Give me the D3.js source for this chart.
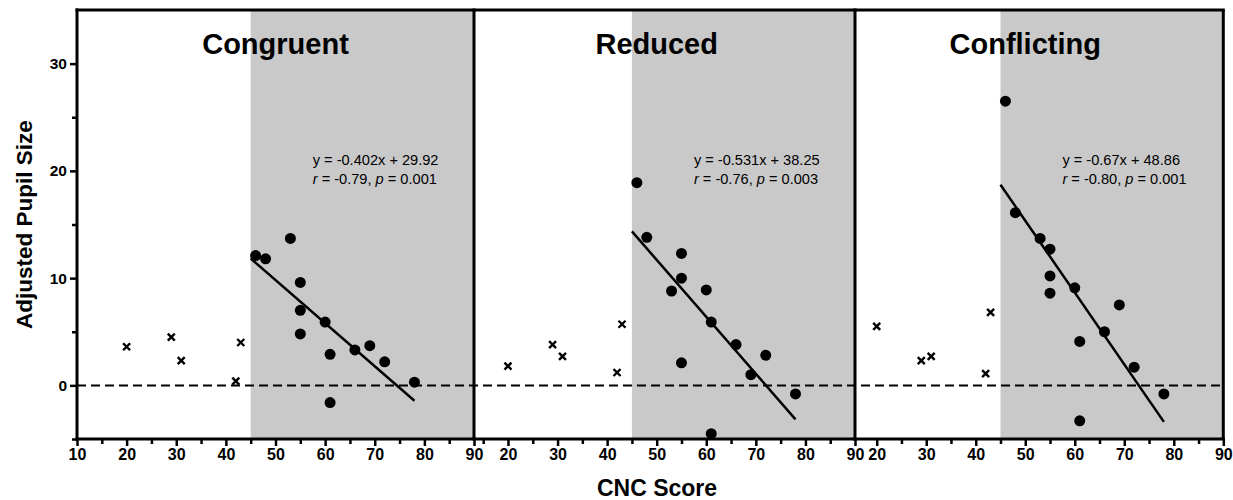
<!DOCTYPE html>
<html><head><meta charset="utf-8">
<script src="https://cdn.jsdelivr.net/npm/d3@7"></script>
<style>
html,body{margin:0;padding:0;background:#fff;}
svg{display:block;font-family:"Liberation Sans",Arial,Helvetica,sans-serif;}
</style></head>
<body><svg id="chart" width="1233" height="500"></svg>
<script>
// ---- data ----
const panels = ["Congruent", "Reduced", "Conflicting"];
const equations = ["y = -0.402x + 29.92", "y = -0.531x + 38.25", "y = -0.67x + 48.86"];
const rValues = ["-0.79", "-0.76", "-0.80"];
const pValues = ["0.001", "0.003", "0.001"];
const slopes = [-0.402, -0.531, -0.67];
const intercepts = [29.92, 38.25, 48.86];

// excluded participants (crosses): CNC score, pupil size
const crossX = [20, 29, 31, 42, 43];
const crossY = [
  [3.6, 4.5, 2.3, 0.4, 4.0],
  [1.8, 3.8, 2.7, 1.2, 5.7],
  [5.5, 2.3, 2.7, 1.1, 6.8]
];
// included participants (dots)
const dotX = [
  [46, 48, 53, 55, 55, 55, 60, 61, 61, 66, 69, 72, 78],
  [46, 48, 53, 55, 55, 55, 60, 61, 61, 66, 69, 72, 78],
  [46, 48, 53, 55, 55, 55, 60, 61, 61, 66, 69, 72, 78]
];
const dotY = [
  [12.1, 11.8, 13.7, 9.6, 7.0, 4.8, 5.9, 2.9, -1.6, 3.3, 3.7, 2.2, 0.3],
  [18.9, 13.8, 8.8, 12.3, 10.0, 2.1, 8.9, 5.9, -4.5, 3.8, 1.0, 2.8, -0.8],
  [26.5, 16.1, 13.7, 12.7, 10.2, 8.6, 9.1, 4.1, -3.3, 5.0, 7.5, 1.7, -0.8]
];
const xTicks = [10, 20, 30, 40, 50, 60, 70, 80, 90];
const xMinorTicks = [15, 25, 35, 45, 55, 65, 75, 85];
const yTicks = [0, 10, 20, 30];
const yMinorTicks = [-5, 5, 15, 25];
const xDomain = [10, 90];
const yDomain = [-5, 35];
const shadeStart = 45;
const fitRange = [45, 78];

// ---- layout ----
const svg = d3.select("#chart");
const topY = 10, bottomY = 439;
const panelRanges = [[77, 474], [458.4, 855], [827.2, 1223.3]];
const panelLeft = [77, 474, 854.5];
const grey = "#c9c9c9";
const y = d3.scaleLinear().domain(yDomain).range([bottomY, topY]);

panels.forEach((name, i) => {
  const x = d3.scaleLinear().domain(xDomain).range(panelRanges[i]);
  const left = panelLeft[i], right = panelRanges[i][1];
  const g = svg.append("g");
  // shading
  g.append("rect").attr("x", x(shadeStart)).attr("y", y(yDomain[1]))
    .attr("width", x(xDomain[1]) - x(shadeStart)).attr("height", y(yDomain[0]) - y(yDomain[1]))
    .attr("fill", grey);
  // title
  g.append("text").attr("x", x(50)).attr("y", 54).attr("text-anchor", "middle")
    .attr("font-size", 29).attr("font-weight", "bold").text(name);
  // annotation
  const ann = g.append("text").attr("x", x(57.5)).attr("y", 165).attr("font-size", 14.6);
  ann.append("tspan").text(equations[i]);
  const l2 = g.append("text").attr("x", x(57.5)).attr("y", 184).attr("font-size", 14.6);
  l2.append("tspan").attr("font-style", "italic").text("r");
  l2.append("tspan").text(" = " + rValues[i] + ", ");
  l2.append("tspan").attr("font-style", "italic").text("p");
  l2.append("tspan").text(" = " + pValues[i]);
  // frame
  g.append("line").attr("x1", right).attr("x2", right).attr("y1", topY).attr("y2", bottomY)
    .attr("stroke", "#000").attr("stroke-width", 3);
  g.append("line").attr("x1", left - 1.5).attr("x2", right + 1.5).attr("y1", topY).attr("y2", topY)
    .attr("stroke", "#000").attr("stroke-width", 3);
  // x axis
  const vis = t => x(t) >= left - 1;
  const ax = g.append("g").attr("transform", `translate(0,${bottomY})`)
    .call(d3.axisBottom(x).tickValues(xTicks.filter(vis)).tickSize(7).tickPadding(3).tickFormat(d3.format("d")));
  ax.select(".domain").remove();
  ax.selectAll(".tick line").attr("stroke-width", 2.5);
  ax.selectAll("text").attr("font-size", 16).attr("font-weight", "bold")
    .attr("font-family", '"Liberation Sans",Arial,sans-serif');
  const axm = g.append("g").attr("transform", `translate(0,${bottomY})`)
    .call(d3.axisBottom(x).tickValues(xMinorTicks.filter(vis)).tickSize(5).tickFormat(""));
  axm.select(".domain").remove();
  axm.selectAll(".tick line").attr("stroke-width", 2.5);
  g.append("line").attr("x1", left - 1.5).attr("x2", right + 1.5).attr("y1", bottomY).attr("y2", bottomY)
    .attr("stroke", "#000").attr("stroke-width", 3);
  // regression line
  g.append("line")
    .attr("x1", x(fitRange[0])).attr("y1", y(slopes[i] * fitRange[0] + intercepts[i]))
    .attr("x2", x(fitRange[1])).attr("y2", y(slopes[i] * fitRange[1] + intercepts[i]))
    .attr("stroke", "#000").attr("stroke-width", 2.5);
  // dots
  g.selectAll("circle.d").data(dotX[i].map((v, k) => [v, dotY[i][k]])).enter()
    .append("circle").attr("cx", d => x(d[0])).attr("cy", d => y(d[1])).attr("r", 5.5).attr("fill", "#000");
  // crosses
  const s = 3.5;
  g.selectAll("path.c").data(crossX.map((v, k) => [v, crossY[i][k]])).enter()
    .append("path")
    .attr("d", d => { const cx = x(d[0]), cy = y(d[1]);
      return `M${cx - s},${cy - s}L${cx + s},${cy + s}M${cx - s},${cy + s}L${cx + s},${cy - s}`; })
    .attr("stroke", "#000").attr("stroke-width", 2.4);
});

// zero dashed line
svg.append("line").attr("x1", 77).attr("x2", 1223).attr("y1", y(0)).attr("y2", y(0))
  .attr("stroke", "#000").attr("stroke-width", 2).attr("stroke-dasharray", "9,5");

// y axis
const ay = svg.append("g").attr("transform", "translate(77,0)")
  .call(d3.axisLeft(y).tickValues(yTicks).tickSize(7).tickPadding(3).tickFormat(d3.format("d")));
ay.select(".domain").remove();
ay.selectAll(".tick line").attr("stroke-width", 2.5);
ay.selectAll("text").attr("font-size", 15.5).attr("font-weight", "bold")
  .attr("font-family", '"Liberation Sans",Arial,sans-serif');
const aym = svg.append("g").attr("transform", "translate(77,0)")
  .call(d3.axisLeft(y).tickValues(yMinorTicks).tickSize(5).tickFormat(""));
aym.select(".domain").remove();
aym.selectAll(".tick line").attr("stroke-width", 2.5);
svg.append("line").attr("x1", 77).attr("x2", 77).attr("y1", topY - 1.5).attr("y2", bottomY + 1.5)
  .attr("stroke", "#000").attr("stroke-width", 3);

// axis titles
svg.append("text").attr("transform", `translate(32,${(topY + bottomY) / 2}) rotate(-90)`)
  .attr("text-anchor", "middle").attr("font-size", 22.5).attr("font-weight", "bold").text("Adjusted Pupil Size");
svg.append("text").attr("x", 657).attr("y", 496).attr("text-anchor", "middle")
  .attr("font-size", 23).attr("font-weight", "bold").text("CNC Score");
</script></body></html>
